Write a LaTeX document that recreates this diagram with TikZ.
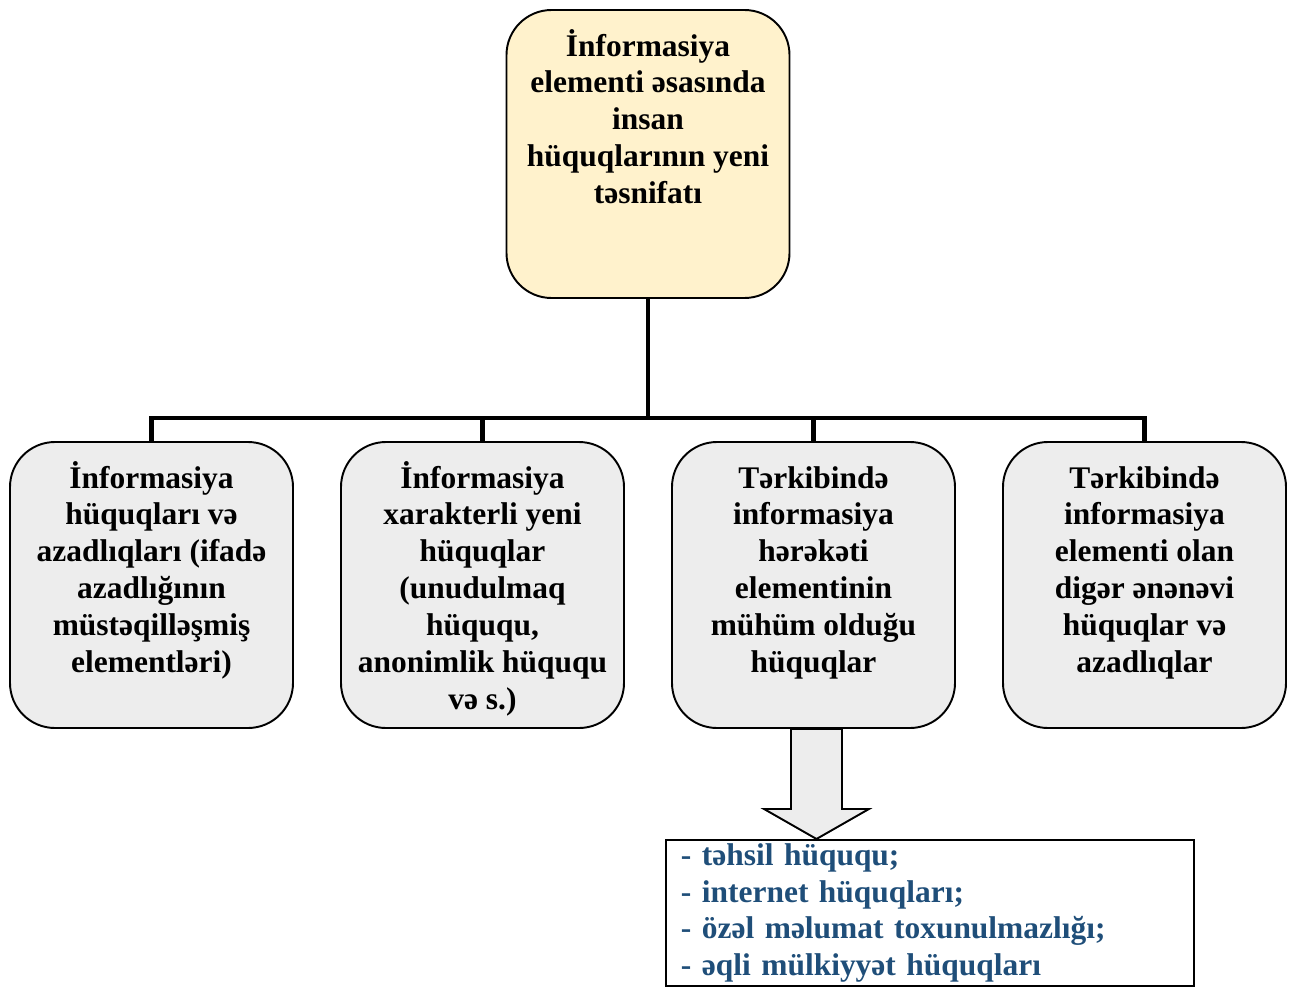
\documentclass[tikz,border=0pt]{standalone}
\usepackage{fontspec}
\setmainfont{Liberation Serif}
\usetikzlibrary{positioning}
\definecolor{boxyellow}{HTML}{FFF2CC}
\definecolor{boxgray}{HTML}{EDEDED}
\definecolor{listblue}{HTML}{1F4E79}
\begin{document}
\begin{tikzpicture}[level distance=8.62cm,
    level 1/.style={sibling distance=6.62cm},
    every node/.style={font=\fontsize{17.9}{21}\selectfont\bfseries},
    topbox/.style={draw, line width=1.1pt, rounded corners=0.9cm, fill=boxyellow, inner sep=0pt,
      execute at begin node={\begin{minipage}[c][5.76cm][t]{5.66cm}\centering\rule{0pt}{0.92cm}},
      execute at end node={\end{minipage}}},
    subbox/.style={draw, line width=1.1pt, rounded corners=0.9cm, fill=boxgray, inner sep=0pt,
      execute at begin node={\begin{minipage}[c][5.72cm][t]{5.66cm}\centering\rule{0pt}{0.92cm}},
      execute at end node={\end{minipage}}},
    listbox/.style={draw, line width=1.1pt, fill=white, text=listblue, align=left,
      text width=9.96cm, inner xsep=0.3cm, inner ysep=0pt, minimum height=2.92cm},
    blockarrow/.style={draw, line width=1.1pt, fill=boxgray, line join=miter},
    edge from parent/.style={draw, line width=2.4pt},
    edge from parent path={(\tikzparentnode.south) -- ++(0,-2.38) -| (\tikzchildnode.north)}]
    \useasboundingbox (0,0) rectangle (25.88,-19.74);
    \node[topbox] (top) at (12.96,-3.08) {İnformasiya\\elementi əsasında\\insan\\hüquqlarının yeni\\təsnifatı}
      child {node[subbox] (b1) {İnformasiya\\hüquqları və\\azadlıqları (ifadə\\azadlığının\\müstəqilləşmiş\\elementləri)}}
      child {node[subbox] (b2) {İnformasiya\\xarakterli yeni\\hüquqlar\\(unudulmaq\\hüququ,\\anonimlik hüququ\\və s.)}}
      child {node[subbox] (b3) {Tərkibində\\informasiya\\hərəkəti\\elementinin\\mühüm olduğu\\hüquqlar}}
      child {node[subbox] (b4) {Tərkibində\\informasiya\\elementi olan\\digər ənənəvi\\hüquqlar və\\azadlıqlar}};
    \draw[blockarrow] ([xshift=-0.45cm]b3.south) -- ++(0,-1.6) -- ++(-0.54,0) -- ++(1.05,-0.6) coordinate (tip)
      -- ++(1.05,0.6) -- ++(-0.54,0) -- ++(0,1.6) -- cycle;
    \node[listbox, anchor=north west] (list) at ([xshift=-3.03cm]tip) {- təhsil hüququ;\\- internet hüquqları;\\- özəl məlumat toxunulmazlığı;\\- əqli mülkiyyət hüquqları};
\end{tikzpicture}
\end{document}
